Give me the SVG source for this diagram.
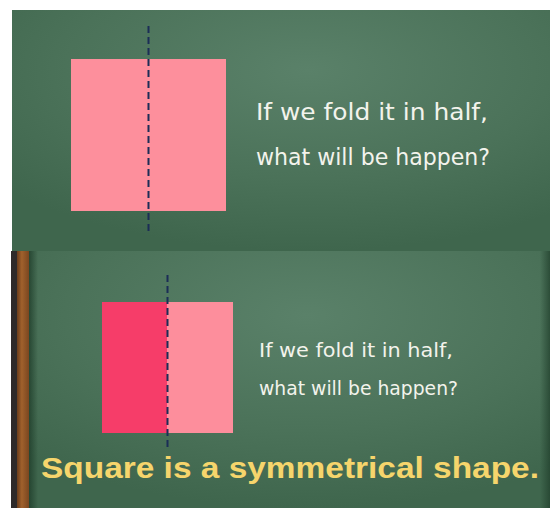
<svg xmlns="http://www.w3.org/2000/svg" width="550" height="508" viewBox="0 0 550 508">
  <style>
    .q { font-family: "DejaVu Sans", "Liberation Sans", sans-serif; fill: #f3f3ec; }
    .fold { stroke: #1b2d57; stroke-width: 2; stroke-dasharray: 7 4; fill: none; }
    .y { font-family: "Liberation Sans", Arial, sans-serif; font-weight: bold; fill: #f6d56c; }
  </style>
  <defs>
    <radialGradient id="board" cx="0.55" cy="0.25" r="0.75">
      <stop offset="0" stop-color="#5a8169"/>
      <stop offset="0.6" stop-color="#4b7259"/>
      <stop offset="1" stop-color="#3f664d"/>
    </radialGradient>
    <linearGradient id="wood" x1="0" y1="0" x2="1" y2="0">
      <stop offset="0" stop-color="#6b3d1c"/>
      <stop offset="0.4" stop-color="#a0612c"/>
      <stop offset="1" stop-color="#7a4620"/>
    </linearGradient>
    <linearGradient id="shadowL" x1="0" y1="0" x2="1" y2="0">
      <stop offset="0" stop-color="#1f3d2a" stop-opacity="0.8"/>
      <stop offset="1" stop-color="#1f3d2a" stop-opacity="0"/>
    </linearGradient>
    <linearGradient id="shadowR" x1="0" y1="0" x2="1" y2="0">
      <stop offset="0" stop-color="#1f3d2a" stop-opacity="0"/>
      <stop offset="1" stop-color="#1f3d2a" stop-opacity="0.7"/>
    </linearGradient>
  </defs>
  <rect width="550" height="508" fill="#ffffff"/>

  <g id="top-panel">
    <rect x="12" y="10" width="538" height="241" fill="url(#board)"/>
    <rect x="71" y="59" width="155" height="152" fill="#fd8f9c"/>
    <text class="q" x="256" y="120" font-size="23" textLength="232" lengthAdjust="spacingAndGlyphs">If we fold it in half,</text>
    <text class="q" x="256" y="165" font-size="23" textLength="234" lengthAdjust="spacingAndGlyphs">what will be happen?</text>
  </g>

  <g id="bottom-panel">
    <rect x="11" y="251" width="539" height="257" fill="url(#board)"/>
    <rect x="29" y="251" width="9" height="257" fill="url(#shadowL)"/>
    <rect x="540" y="251" width="10" height="257" fill="url(#shadowR)"/>
    <rect x="11" y="251" width="6" height="257" fill="#2e2a2a"/>
    <rect x="17" y="251" width="12" height="257" fill="url(#wood)"/>
    <rect x="102" y="302" width="65" height="131" fill="#f63d69"/>
    <rect x="167" y="302" width="66" height="131" fill="#fd8e9c"/>
    <text class="q" x="259" y="357" font-size="19" textLength="194" lengthAdjust="spacingAndGlyphs">If we fold it in half,</text>
    <text class="q" x="259" y="395" font-size="19" textLength="199" lengthAdjust="spacingAndGlyphs">what will be happen?</text>
    <text class="y" x="41" y="478" font-size="29" textLength="498" lengthAdjust="spacingAndGlyphs">Square is a symmetrical shape.</text>
  </g>

  <g id="connectors">
    <line class="fold" x1="148.5" y1="26" x2="148.5" y2="232"/>
    <line class="fold" x1="167.5" y1="275" x2="167.5" y2="451"/>
  </g>
</svg>
